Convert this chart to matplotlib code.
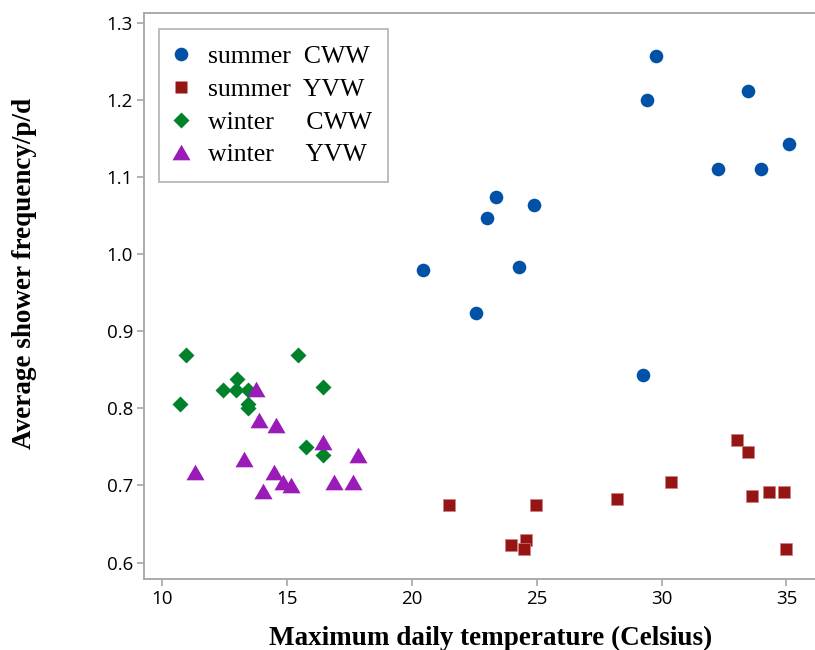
import matplotlib
matplotlib.use("Agg")
import matplotlib.pyplot as plt
from matplotlib.lines import Line2D

# ---- data ----
summer_cww_x = [29.78, 29.41, 33.48, 35.12, 32.27, 34.00, 23.38, 24.89, 23.00, 20.44, 24.29, 22.56, 29.26]
summer_cww_y = [1.257, 1.199, 1.211, 1.142, 1.110, 1.110, 1.074, 1.064, 1.046, 0.979, 0.983, 0.923, 0.843]

summer_yvw_x = [21.49, 24.97, 23.99, 24.59, 24.51, 28.21, 30.38, 33.03, 33.48, 33.63, 34.31, 34.91, 34.98]
summer_yvw_y = [0.674, 0.674, 0.623, 0.629, 0.618, 0.682, 0.704, 0.759, 0.743, 0.686, 0.691, 0.691, 0.618]

winter_cww_x = [10.95, 15.46, 12.99, 12.46, 12.96, 13.43, 16.46, 10.72, 13.44, 13.44, 15.77, 16.46]
winter_cww_y = [0.869, 0.869, 0.838, 0.823, 0.823, 0.824, 0.827, 0.806, 0.806, 0.800, 0.750, 0.740]

winter_yvw_x = [13.76, 13.90, 14.57, 16.46, 17.86, 13.28, 11.33, 14.49, 14.86, 15.18, 14.06, 16.90, 17.66]
winter_yvw_y = [0.825, 0.785, 0.778, 0.756, 0.739, 0.734, 0.717, 0.717, 0.705, 0.701, 0.693, 0.705, 0.705]

x_ticks = [10, 15, 20, 25, 30, 35]
y_ticks = [0.6, 0.7, 0.8, 0.9, 1.0, 1.1, 1.2, 1.3]
y_tick_labels = ["0.6", "0.7", "0.8", "0.9", "1.0", "1.1", "1.2", "1.3"]

labels = ["summer  CWW", "summer  YVW", "winter     CWW", "winter     YVW"]

# ---- style ----
blue = "#0152a6"
red = "#951515"
green = "#00812a"
purple = "#9a1bb8"
gray = "#a6a6a6"

tri = [(0, 0.866), (-1, -0.866), (1, -0.866)]

fig = plt.figure(figsize=(8.15, 6.5), dpi=100)
ax = fig.add_axes([144 / 815, 1 - 578.7 / 650, 1 - 144 / 815 + 0.01, (578.7 - 13.3) / 650])

ax.plot(summer_cww_x, summer_cww_y, ls="none", marker="o", ms=9.8, color=blue, mec="none")
ax.plot(summer_yvw_x, summer_yvw_y, ls="none", marker="s", ms=9.0, color=red, mec="#d08080", mew=0.5)
ax.plot(winter_cww_x, winter_cww_y, ls="none", marker="D", ms=8.3, color=green, mec="none")
ax.plot(winter_yvw_x, winter_yvw_y, ls="none", marker=tri, ms=13, color=purple, mec="none")

ax.set_xlim(9.28, 36.47)
ax.set_ylim(0.579, 1.312)
ax.set_xticks(x_ticks)
ax.set_yticks(y_ticks)
ax.set_yticklabels(y_tick_labels)

for s in ["left", "bottom", "top", "right"]:
    ax.spines[s].set_color(gray)
    ax.spines[s].set_linewidth(1.3)
ax.tick_params(axis="both", colors=gray, length=5, width=1.2, labelcolor="black",
               labelsize=13.5, pad=3)
for t in ax.get_xticklabels() + ax.get_yticklabels():
    t.set_fontfamily("Open Sans")

ax.set_xlabel("Maximum daily temperature (Celsius)", fontfamily="Liberation Serif",
              fontweight="bold", fontsize=19.5)
ax.set_ylabel("Average shower frequency/p/d", fontfamily="Liberation Serif",
              fontweight="bold", fontsize=19.5)
ax.xaxis.set_label_coords(0.51, -0.083)
ax.yaxis.set_label_coords(-0.157, 0.54)

handles = [
    Line2D([], [], ls="none", marker="o", ms=9.8, color=blue, mec="none"),
    Line2D([], [], ls="none", marker="s", ms=9.0, color=red, mec="none"),
    Line2D([], [], ls="none", marker="D", ms=8.3, color=green, mec="none"),
    Line2D([], [], ls="none", marker=tri, ms=13, color=purple, mec="none"),
]
leg = ax.legend(handles, labels, loc="upper left", bbox_to_anchor=(0.022, 0.972),
                borderaxespad=0, frameon=True, fancybox=False,
                prop={"family": "Liberation Serif", "size": 18.5},
                handlelength=0.5, handletextpad=0.8, labelspacing=0.38, borderpad=0.62)
leg.get_frame().set_edgecolor(gray)
leg.get_frame().set_linewidth(1.3)

fig.savefig("out.png", dpi=100)
